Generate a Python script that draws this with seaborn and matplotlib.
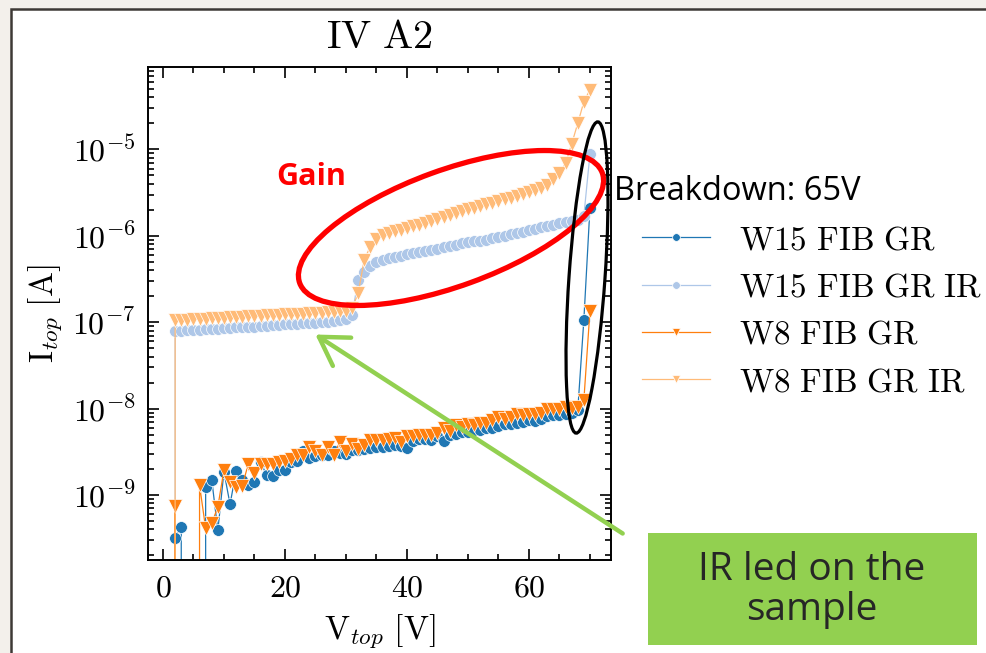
import numpy as np
import matplotlib
matplotlib.use("Agg")
import matplotlib.pyplot as plt
import seaborn as sns
from matplotlib.patches import Ellipse, Rectangle, FancyArrowPatch
from matplotlib.transforms import IdentityTransform
from matplotlib.ticker import MultipleLocator, LogLocator, FuncFormatter, NullFormatter, FixedLocator

plt.rcParams['mathtext.fontset'] = 'cm'

# ---------------- data (V_top in volts, I_top in amperes) ----------------
voltage = list(range(1, 71))

w15_gr = [-2e-10, 3.2e-10, 4.3e-10, -1e-10, -1e-10, -1e-10, 1.25e-9, 1.5e-9, 3.9e-10, 1.86e-9,
          7.8e-10, 1.9e-9, 1.5e-9, 1.3e-9, 1.42e-9, 2.4e-9, 1.7e-9, 1.68e-9, 1.95e-9, 1.97e-9,
          2.4e-9, 2.5e-9, 3.2e-9, 2.7e-9, 2.8e-9, 2.9e-9, 2.9e-9, 3.2e-9, 3.1e-9, 3.0e-9,
          3.3e-9, 3.3e-9, 3.4e-9, 3.5e-9, 3.6e-9, 3.6e-9, 3.7e-9, 3.8e-9, 3.7e-9, 3.5e-9,
          4.2e-9, 4.4e-9, 4.5e-9, 4.3e-9, 4.8e-9, 4.2e-9, 4.9e-9, 5.1e-9, 5.3e-9, 5.4e-9,
          5.6e-9, 5.7e-9, 5.9e-9, 6.0e-9, 6.3e-9, 6.6e-9, 6.7e-9, 6.9e-9, 7.0e-9, 7.3e-9,
          7.2e-9, 7.5e-9, 8.3e-9, 8.4e-9, 8.5e-9, 8.7e-9, 8.9e-9, 9.6e-9, 1.06e-7, 2.1e-6]

w15_gr_ir = [-2e-10, 7.9e-8, 8.0e-8, 8.1e-8, 8.1e-8, 8.2e-8, 8.3e-8, 8.4e-8, 8.4e-8, 8.5e-8,
             8.6e-8, 8.7e-8, 8.7e-8, 8.8e-8, 8.9e-8, 9.0e-8, 9.1e-8, 9.2e-8, 9.3e-8, 9.4e-8,
             9.5e-8, 9.6e-8, 9.7e-8, 9.8e-8, 9.9e-8, 1.0e-7, 1.01e-7, 1.03e-7, 1.05e-7, 1.08e-7,
             1.2e-7, 3.1e-7, 3.8e-7, 4.5e-7, 5.0e-7, 5.3e-7, 5.5e-7, 5.7e-7, 5.9e-7, 6.1e-7,
             6.3e-7, 6.5e-7, 6.7e-7, 6.9e-7, 7.1e-7, 7.4e-7, 7.6e-7, 7.9e-7, 8.2e-7, 8.4e-7,
             8.6e-7, 8.8e-7, 9.0e-7, 9.3e-7, 9.6e-7, 1.0e-6, 1.04e-6, 1.08e-6, 1.12e-6, 1.16e-6,
             1.2e-6, 1.25e-6, 1.3e-6, 1.34e-6, 1.39e-6, 1.43e-6, 1.47e-6, 1.52e-6, 1.7e-6, 8.8e-6]

w8_gr = [-2e-10, 7.5e-10, -1e-10, -1e-10, -1e-10, 1.3e-9, 4.1e-10, 4.7e-10, 7.3e-10, 1.95e-9,
         1.42e-9, 1.25e-9, 1.27e-9, 2.3e-9, 1.78e-9, 2.28e-9, 2.3e-9, 2.3e-9, 2.4e-9, 2.5e-9,
         2.6e-9, 2.9e-9, 2.9e-9, 3.6e-9, 3.2e-9, 2.9e-9, 3.6e-9, 2.9e-9, 4.1e-9, 3.2e-9,
         3.9e-9, 3.4e-9, 3.8e-9, 4.3e-9, 4.3e-9, 4.3e-9, 4.4e-9, 4.6e-9, 4.1e-9, 4.8e-9,
         4.8e-9, 4.9e-9, 5.0e-9, 5.0e-9, 5.2e-9, 6.0e-9, 5.5e-9, 6.4e-9, 6.2e-9, 6.6e-9,
         6.5e-9, 6.9e-9, 6.8e-9, 7.3e-9, 8.0e-9, 7.6e-9, 8.0e-9, 8.6e-9, 8.4e-9, 8.7e-9,
         8.6e-9, 8.9e-9, 1.0e-8, 9.8e-9, 1.0e-8, 1.03e-8, 1.02e-8, 1.05e-8, 1.25e-8, 1.35e-7]

w8_gr_ir = [-2e-10, 1.05e-7, 1.06e-7, 1.07e-7, 1.08e-7, 1.09e-7, 1.1e-7, 1.11e-7, 1.12e-7, 1.13e-7,
            1.14e-7, 1.15e-7, 1.16e-7, 1.17e-7, 1.18e-7, 1.19e-7, 1.2e-7, 1.21e-7, 1.22e-7, 1.23e-7,
            1.24e-7, 1.25e-7, 1.26e-7, 1.27e-7, 1.28e-7, 1.29e-7, 1.3e-7, 1.32e-7, 1.34e-7, 1.36e-7,
            1.45e-7, 2.15e-7, 5.3e-7, 7.5e-7, 9.2e-7, 1.02e-6, 1.08e-6, 1.13e-6, 1.18e-6, 1.23e-6,
            1.28e-6, 1.34e-6, 1.40e-6, 1.48e-6, 1.56e-6, 1.63e-6, 1.72e-6, 1.82e-6, 1.92e-6, 2.02e-6,
            2.12e-6, 2.22e-6, 2.32e-6, 2.42e-6, 2.52e-6, 2.63e-6, 2.75e-6, 2.88e-6, 3.02e-6, 3.18e-6,
            3.35e-6, 3.6e-6, 3.9e-6, 4.5e-6, 5.3e-6, 6.9e-6, 1.15e-5, 2.0e-5, 3.55e-5, 4.9e-5]

x_ticks = [0, 20, 40, 60]
y_ticks = [1e-9, 1e-8, 1e-7, 1e-6, 1e-5]

series_labels = [r'$\mathrm{W15\ FIB\ GR}$', r'$\mathrm{W15\ FIB\ GR\ IR}$',
                 r'$\mathrm{W8\ FIB\ GR}$', r'$\mathrm{W8\ FIB\ GR\ IR}$']
series_colors = ['#1f77b4', '#aec7e8', '#ff7f0e', '#ffbb78']
series_markers = ['o', 'o', 'v', 'v']
series_values = [w15_gr, w15_gr_ir, w8_gr, w8_gr_ir]

# ---------------- figure ----------------
W, H = 986, 653
fig = plt.figure(figsize=(W / 100, H / 100), dpi=100, facecolor='#f3f0eb')
ident = IdentityTransform()

def P(x, y):
    """image pixel (top-left origin) -> display coords"""
    return (x, H - y)

# slide frame
fig.add_artist(Rectangle(P(11, 680), 1100, 680 - 9, transform=ident,
                         facecolor='white', edgecolor='#3d3935', linewidth=1.8, zorder=0))

ax_l, ax_r, ax_t, ax_b = 148, 611, 67, 560
ax = fig.add_axes([ax_l / W, 1 - ax_b / H, (ax_r - ax_l) / W, (ax_b - ax_t) / H])
ax.set_facecolor('white')

for vals, lab, col, mk in zip(series_values, series_labels, series_colors, series_markers):
    sns.lineplot(x=voltage, y=vals, ax=ax, color=col, marker=mk,
                 markersize=9.5 if mk == 'v' else 8.5, markeredgewidth=0.5,
                 linewidth=0.9, label=lab, estimator=None, sort=False, errorbar=None)

ax.set_yscale('log')
ax.set_xlim(-2.45, 73.45)
ax.set_ylim(1.77e-10, 8.97e-5)

ax.xaxis.set_major_locator(FixedLocator(x_ticks))
ax.xaxis.set_minor_locator(MultipleLocator(5))
ax.xaxis.set_major_formatter(FuncFormatter(lambda v, p: rf'${v:.0f}$'))
ax.yaxis.set_major_locator(FixedLocator(y_ticks))
ax.yaxis.set_minor_locator(LogLocator(base=10, subs=np.arange(2, 10), numticks=20))
ax.yaxis.set_minor_formatter(NullFormatter())
ax.yaxis.set_major_formatter(FuncFormatter(lambda v, p: rf'$10^{{{int(round(np.log10(v)))}}}$'))

ax.tick_params(which='both', direction='in', top=True, right=True, width=1.2, colors='black')
ax.tick_params(which='major', length=8, labelsize=23, pad=9)
ax.tick_params(which='minor', length=4.5)
for s in ax.spines.values():
    s.set_linewidth(1.4)
    s.set_color('black')

ax.set_title(r'$\mathrm{IV\ A2}$', fontsize=29, pad=14)
ax.set_xlabel(r'$\mathrm{V}_{top}\ [\mathrm{V}]$', fontsize=24, labelpad=6)
ax.set_ylabel(r'$\mathrm{I}_{top}\ [\mathrm{A}]$', fontsize=24, labelpad=6)

leg = ax.legend(loc='upper left', bbox_to_anchor=(642, H - 223), bbox_transform=ident,
                frameon=False, fontsize=24, borderpad=0, borderaxespad=0, markerscale=0.65,
                handlelength=2.05, handletextpad=0.85, labelspacing=0.43, numpoints=1)

# ---------------- slide annotations ----------------
fig.add_artist(Ellipse(P(451, 228), 322, 116, angle=20, transform=ident, fill=False,
                       edgecolor='#ff0000', linewidth=3.8, zorder=5))
fig.add_artist(Ellipse(P(587, 277.5), 36, 312, angle=-4, transform=ident, fill=False,
                       edgecolor='black', linewidth=2.3, zorder=5))
fig.add_artist(FancyArrowPatch(P(625, 535), P(313, 333), transform=ident,
                               arrowstyle='->,head_length=0.9,head_width=0.55', mutation_scale=22,
                               color='#92d050', linewidth=3.2, zorder=6))
fig.add_artist(Rectangle(P(648, 645), 329, 112, transform=ident, facecolor='#92d050',
                         edgecolor='none', zorder=6))
fig.text(812 / W, 1 - 590 / H, 'IR led on the\nsample', ha='center', va='center',
         fontsize=28, family='Open Sans', color='#262626', linespacing=1.1, zorder=7)
fig.text(311 / W, 1 - 177 / H, 'Gain', ha='center', va='center', fontsize=22,
         family='Open Sans', fontweight='bold', color='#ff0000', zorder=7)
fig.text(614 / W, 1 - 191 / H, 'Breakdown: 65V', ha='left', va='center', fontsize=23.5,
         family='Open Sans', color='black', zorder=7)

fig.savefig('out.png', dpi=100, facecolor=fig.get_facecolor())
